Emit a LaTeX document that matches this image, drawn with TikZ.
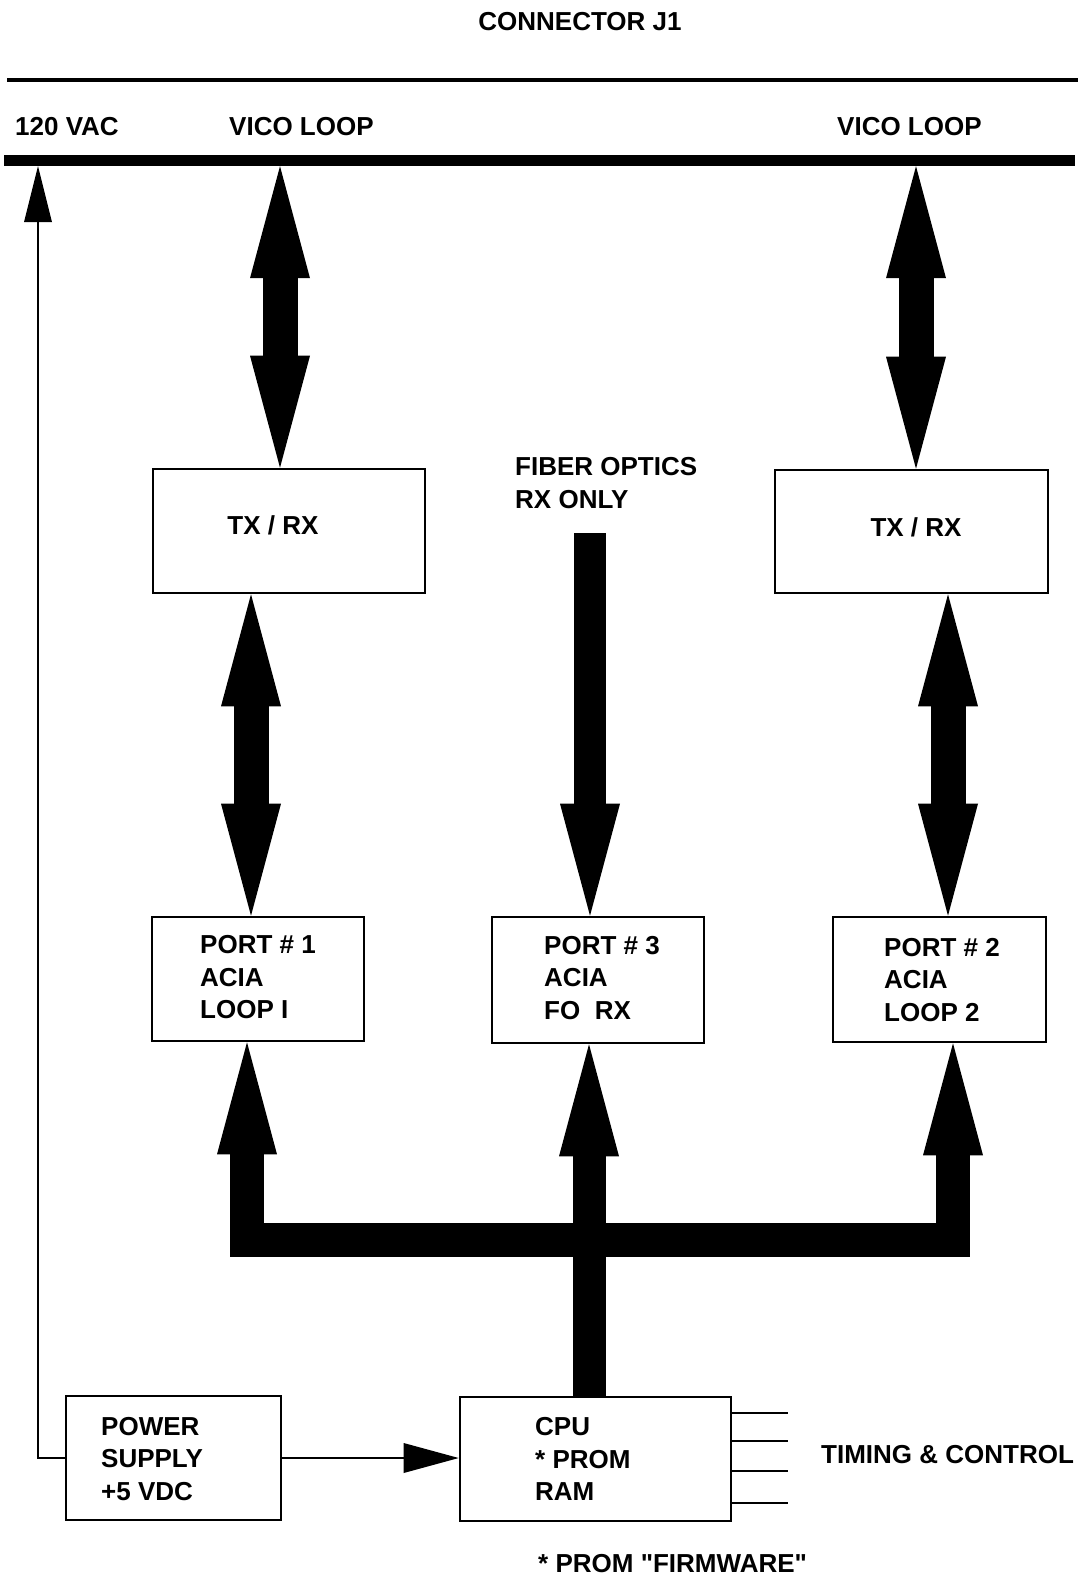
\documentclass[tikz,border=0pt]{standalone}
\usepackage{fontspec}
\setmainfont{Liberation Sans}[Ligatures=TeXOff]
\usetikzlibrary{arrows.meta,calc}
\begin{document}
\begin{tikzpicture}[x=1pt,y=-1pt,
  txt/.style={font=\bfseries\fontsize{26}{32.5}\selectfont, align=left, inner sep=0pt, anchor=west},
  blk/.style={draw, line width=2.6pt, inner sep=0pt},
  bighead/.tip={Triangle[width=60pt,length=112pt,line width=0pt]},
  fat/.style={line width=35pt, bighead-bighead},
  fatend/.style={line width=33pt, -bighead},
  thinarr/.style={line width=2.6pt, -{Triangle[width=28pt,length=56pt,line width=0pt]}},
  wire/.style={line width=2.6pt}
]
\useasboundingbox (0,0) rectangle (1089,1577);
\fill[white] (0,0) rectangle (1089,1577);

% connector J1
\node[txt, anchor=center] (title) at (580,22) {CONNECTOR J1};
\coordinate (topL) at (7,80);
\coordinate (topR) at (1078,80);
\draw[line width=4pt] (topL) -- (topR);
\node[txt] (vac) at (15,127) {120 VAC};
\node[txt] (vico1) at (229,127) {VICO LOOP};
\node[txt] (vico2) at (837,127) {VICO LOOP};
\node[fill=black, inner sep=0pt, minimum width=1071pt, minimum height=11pt] (j1) at (539.5,160.5) {};

% boxes
\node[blk, minimum width=272pt, minimum height=124pt] (tx1) at (289,531) {};
\node[txt, anchor=center] (tx1t) at (273,525) {TX / RX};
\node[blk, minimum width=273pt, minimum height=123pt] (tx2) at (911.5,531.5) {};
\node[txt, anchor=center] (tx2t) at (916,527) {TX / RX};
\node[txt] (fo) at (515,483) {FIBER OPTICS\\RX ONLY};

\node[blk, minimum width=212pt, minimum height=124pt] (p1) at (258,979) {};
\node[txt] (p1t) at (200,977.5) {PORT \# 1\\ACIA\\LOOP I};
\node[blk, minimum width=212pt, minimum height=126pt] (p3) at (598,980) {};
\node[txt] (p3t) at (544,978) {PORT \# 3\\ACIA\\FO\ \ RX};
\node[blk, minimum width=213pt, minimum height=125pt] (p2) at (939.5,979.5) {};
\node[txt] (p2t) at (884,980) {PORT \# 2\\ACIA\\LOOP 2};

\node[blk, minimum width=215pt, minimum height=124pt] (ps) at (173.5,1458) {};
\node[txt] (pst) at (101,1459) {POWER\\SUPPLY\\+5 VDC};
\node[blk, minimum width=271pt, minimum height=124pt] (cpu) at (595.5,1459) {};
\node[txt] (cput) at (535,1459) {CPU\\* PROM\\RAM};
\node[txt] (tc) at (821,1455) {TIMING \& CONTROL};
\node[txt] (fw) at (538,1564) {* PROM "FIRMWARE"};

% thick arrows
\coordinate (xa) at (280,0);
\coordinate (xb) at (916,0);
\coordinate (xc) at (251,0);
\coordinate (xd) at (948,0);
\draw[fat] (j1.south -| xa) -- (tx1.north -| xa);
\draw[fat] (j1.south -| xb) -- (tx2.north -| xb);
\draw[fat] (tx1.south -| xc) -- (p1.north -| xc);
\draw[fat] (tx2.south -| xd) -- (p2.north -| xd);

\coordinate (fotop) at (590,533);
\draw[fatend, line width=32pt] (fotop) -- (p3.north -| fotop);

% bus
\coordinate (bl) at (247,1240);
\coordinate (br) at (953,1240);
\coordinate (bm) at (589,0);
\draw[line width=34pt, line join=miter, bighead-bighead] (p1.south -| bl) -- (bl) -- (br) -- (p2.south -| br);
\draw[fatend] (cpu.north -| bm) -- (p3.south -| bm);

% thin connections
\coordinate (vx) at (38,0);
\draw[thinarr] (ps.west) -| (j1.south -| vx);
\draw[wire, -{Triangle[width=30pt,length=55pt,line width=0pt]}] (ps.east) -- (ps.east -| cpu.west);
\foreach \yy in {1413,1441,1471,1503} {
  \draw[wire] (cpu.east |- 0,\yy) -- (788,\yy);
}
\end{tikzpicture}
\end{document}
